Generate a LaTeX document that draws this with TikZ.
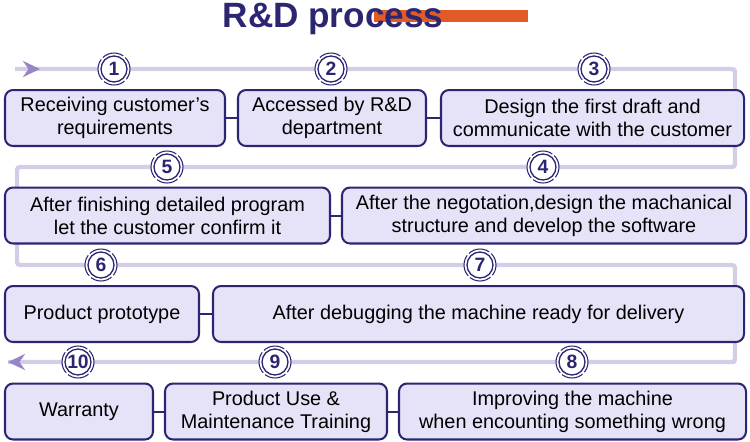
\documentclass[tikz,border=0pt]{standalone}
\usepackage{fontspec}
\setmainfont{Liberation Sans}
\usetikzlibrary{arrows.meta}
\definecolor{rdnavy}{HTML}{2B2672}
\definecolor{rdfill}{HTML}{E6E2F8}
\definecolor{rdtrack}{HTML}{D5CCE6}
\definecolor{rdpointer}{HTML}{9A84C8}
\definecolor{rdorange}{HTML}{E25B26}
\begin{document}
\begin{tikzpicture}[x=0.02cm,y=-0.02cm,
    stage/.style={draw=rdnavy,fill=rdfill,line width=1.15pt,rounded corners=0.16cm,
      minimum width=#1*0.02cm,minimum height=1.12cm,inner sep=0pt,align=center,
      font=\fontsize{11.3}{13}\selectfont},
    link/.style={draw=rdnavy,line width=1.15pt},
    track/.style={draw=rdtrack,line width=2.5pt,rounded corners=0.06cm},
    tip/.style={-{Stealth[length=0.34cm,width=0.32cm,inset=0.11cm,color=rdpointer]}},
    num/.style={circle,draw=rdnavy,fill=white,line width=0.75pt,minimum size=0.52cm,
      inner sep=0pt,text=rdnavy,font=\bfseries\fontsize{11}{11}\selectfont},
    ring/.style={draw=rdnavy,fill=white,line width=0.6pt,
      dash pattern=on 0.444cm off 0.05cm,dash phase=0.222cm}]
  \useasboundingbox (0,0) rectangle (750,441);
  % title
  \node[fill=rdorange,minimum width=3.08cm,minimum height=0.23cm,inner sep=0pt] (bar) at (451,16) {};
  \node[anchor=base,text=rdnavy,font=\bfseries\fontsize{20}{20}\selectfont] (title) at (333,27) {R\&D process};
  % track
  \coordinate (s) at (15,69);
  \coordinate (a) at (40,69);
  \coordinate (r1) at (735,69);
  \coordinate (r2) at (735,167);
  \coordinate (l2) at (17,167);
  \coordinate (l3) at (17,265);
  \coordinate (r3) at (735,265);
  \coordinate (r4) at (735,362);
  \coordinate (e) at (8,362);
  \draw[track] (s) -- (r1) -- (r2) -- (l2) -- (l3) -- (r3) -- (r4) -- (e);
  \draw[track,tip] (s) -- (a);
  \draw[track,tip,rounded corners=0pt] (r4) -- (e);
  % steps
  \node[stage=220] (b1) at (115,118) {Receiving customer’s\\requirements};
  \node[stage=188] (b2) at (332,118) {Accessed by R\&D\\department};
  \node[stage=303] (b3) at (592.5,118) {Design the first draft and\\communicate with the customer};
  \node[stage=325] (b5) at (167.5,215.5) {After finishing detailed program\\let the customer confirm it};
  \node[stage=404] (b4) at (544,215.5) {After the negotation,design the machanical\\structure and develop the software};
  \node[stage=194] (b6) at (102,314) {Product prototype};
  \node[stage=531] (b7) at (478.5,314) {After debugging the machine ready for delivery};
  \node[stage=148] (b10) at (79,411.5) {Warranty};
  \node[stage=222] (b9) at (276,411.5) {Product Use \&\\Maintenance Training};
  \node[stage=347] (b8) at (572.5,411.5) {Improving the machine\\when encounting something wrong};
  \draw[link] (b1) -- (b2);
  \draw[link] (b2) -- (b3);
  \draw[link] (b5) -- (b4);
  \draw[link] (b6) -- (b7);
  \draw[link] (b10) -- (b9);
  \draw[link] (b9) -- (b8);
  % numbers
  \coordinate (p1) at (114,69);
  \coordinate (p2) at (331,69);
  \coordinate (p3) at (594,69);
  \coordinate (p4) at (543,167);
  \coordinate (p5) at (167,167);
  \coordinate (p6) at (101,265);
  \coordinate (p7) at (480,265);
  \coordinate (p8) at (572,362);
  \coordinate (p9) at (275,362);
  \coordinate (p10) at (78,362);
  \foreach \n in {1,...,10} {
    \draw[ring] (p\n) circle [radius=16];
    \node[num] (c\n) at (p\n) {\n};
  }
\end{tikzpicture}
\end{document}
